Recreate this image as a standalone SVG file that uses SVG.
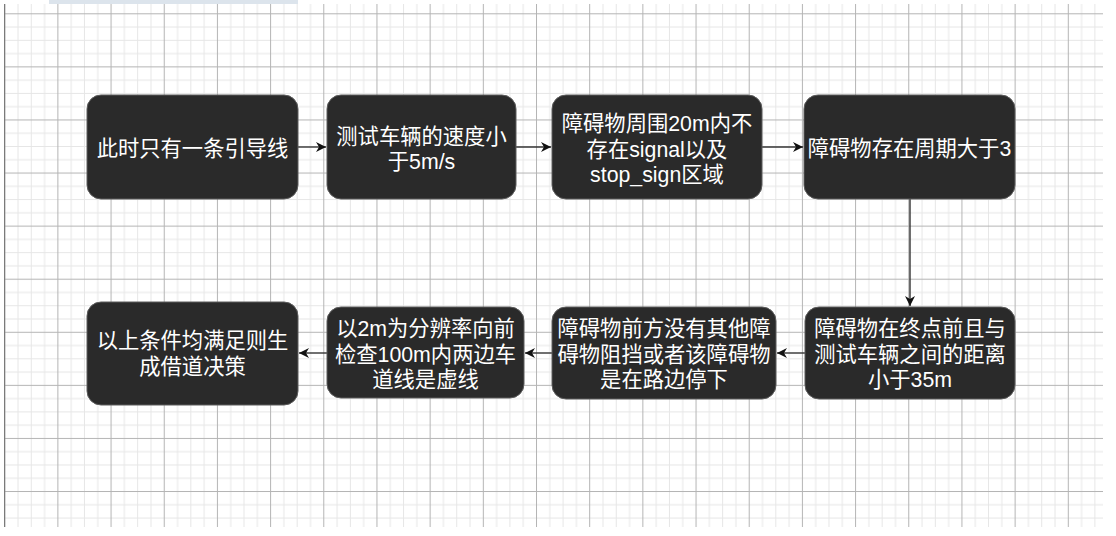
<svg xmlns="http://www.w3.org/2000/svg" width="1116" height="536" viewBox="0 0 1116 536">
  <style>
    .node rect { fill: #2a2a2a; stroke: #5c5c5c; stroke-width: 1; }
    .node text { fill: #ffffff; font-family: "Liberation Sans", "Noto Sans CJK SC", sans-serif; font-size: 21.3px; text-anchor: middle; }
    .edge { stroke: #333333; stroke-width: 1.4; fill: none; marker-end: url(#arrow); }
  </style>
  <defs>
    <pattern id="grid" patternUnits="userSpaceOnUse" x="4.2" y="13.3" width="53.18" height="53.08">
      <rect x="13.3" y="0" width="1" height="53.08" fill="#e6e6e6"/>
      <rect x="26.59" y="0" width="1" height="53.08" fill="#e6e6e6"/>
      <rect x="39.89" y="0" width="1" height="53.08" fill="#e6e6e6"/>
      <rect x="0" y="13.27" width="53.18" height="1" fill="#e6e6e6"/>
      <rect x="0" y="26.54" width="53.18" height="1" fill="#e6e6e6"/>
      <rect x="0" y="39.81" width="53.18" height="1" fill="#e6e6e6"/>
      <rect x="0" y="0" width="1" height="53.08" fill="#b4b4b4"/>
      <rect x="0" y="0" width="53.18" height="1" fill="#b4b4b4"/>
    </pattern>
    <marker id="arrow" markerUnits="userSpaceOnUse" viewBox="0 0 10 10" refX="10" refY="5" markerWidth="10" markerHeight="10" orient="auto">
      <path d="M0,0 L10,5 L0,10 L3,5 Z" fill="#111111"/>
    </marker>
  </defs>

  <rect x="0" y="0" width="1116" height="536" fill="#ffffff"/>
  <rect x="49" y="0" width="249" height="4" fill="#dce4ec"/>
  <rect x="4" y="4" width="1099" height="523" fill="url(#grid)"/>
  <rect x="4" y="4" width="1.2" height="523" fill="#7a7a7a"/>

  <g id="connectors">
    <line class="edge" x1="298" y1="147" x2="326" y2="147"/>
    <line class="edge" x1="516" y1="147" x2="551" y2="147"/>
    <line class="edge" x1="762" y1="147" x2="803" y2="147"/>
    <line class="edge" x1="910" y1="199" x2="910" y2="306"/>
    <line class="edge" x1="805" y1="353" x2="777" y2="353"/>
    <line class="edge" x1="552" y1="353" x2="525" y2="353"/>
    <line class="edge" x1="327" y1="353" x2="299" y2="353"/>
  </g>

  <g id="node1" class="node">
    <rect x="87" y="95" width="211" height="104" rx="14"/>
    <text x="192.5" y="155.5">此时只有一条引导线</text>
  </g>
  <g id="node2" class="node">
    <rect x="327" y="95" width="189" height="104" rx="14"/>
    <text x="421.5" y="143.7">测试车辆的速度小</text>
    <text x="421.5" y="169.3">于5m/s</text>
  </g>
  <g id="node3" class="node">
    <rect x="552" y="95" width="210" height="104" rx="14"/>
    <text x="657" y="130.9">障碍物周围20m内不</text>
    <text x="657" y="156.5">存在signal以及</text>
    <text x="657" y="182.1">stop_sign区域</text>
  </g>
  <g id="node4" class="node">
    <rect x="804" y="95" width="211" height="104" rx="14"/>
    <text x="909.5" y="155.5">障碍物存在周期大于3</text>
  </g>
  <g id="node5" class="node">
    <rect x="805" y="307" width="210" height="92" rx="14"/>
    <text x="910" y="336.2">障碍物在终点前且与</text>
    <text x="910" y="361.8">测试车辆之间的距离</text>
    <text x="910" y="387.4">小于35m</text>
  </g>
  <g id="node6" class="node">
    <rect x="552" y="307" width="224" height="92" rx="14"/>
    <text x="664" y="336.2">障碍物前方没有其他障</text>
    <text x="664" y="361.8">碍物阻挡或者该障碍物</text>
    <text x="664" y="387.4">是在路边停下</text>
  </g>
  <g id="node7" class="node">
    <rect x="327" y="307" width="197" height="91" rx="14"/>
    <text x="425.5" y="336.2">以2m为分辨率向前</text>
    <text x="425.5" y="361.8">检查100m内两边车</text>
    <text x="425.5" y="387.4">道线是虚线</text>
  </g>
  <g id="node8" class="node">
    <rect x="87" y="302" width="211" height="103" rx="14"/>
    <text x="192.5" y="348">以上条件均满足则生</text>
    <text x="192.5" y="373.8">成借道决策</text>
  </g>
</svg>
